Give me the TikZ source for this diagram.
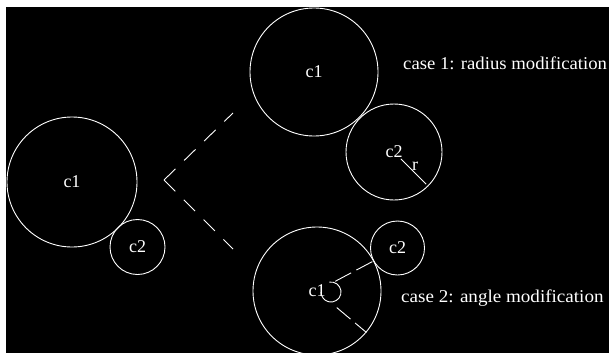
\documentclass[tikz,border=0pt]{standalone}
\usepackage{fontspec}
\setmainfont{Liberation Serif}
\usetikzlibrary{calc}
\begin{document}
\begin{tikzpicture}[x=1pt,y=-1pt,
  ring/.style={circle, draw=white, line width=0.9pt, inner sep=0pt, text=white,
               font=\fontsize{18}{20}\selectfont},
  casetext/.style={text=white, inner sep=0pt, font=\fontsize{18}{20}\selectfont},
  vdash/.style={draw=white, line width=0.9pt, dash pattern=on 16pt off 12pt},
  rdash/.style={draw=white, line width=0.9pt, dash pattern=on 18pt off 6pt},
  solidline/.style={draw=white, line width=0.9pt}]
\useasboundingbox (0,0) rectangle (609,353);
\fill[white] (0,0) rectangle (609,353);
\fill[black] (6,7) rectangle (609,353);

% original configuration
\node[ring, minimum size=130pt] (lc1) at (72,182) {c1};
\node[ring, minimum size=55pt] (lc2) at (137.5,247) {c2};

% dashed V
\coordinate (vapex) at (164,180);
\coordinate (vtop) at (233,113);
\coordinate (vbot) at (233,249);
\draw[vdash] (vapex) -- (vtop);
\draw[vdash] (vapex) -- (vbot);

% case 1
\node[ring, minimum size=128pt] (tc1) at (314,72) {c1};
\node[ring, minimum size=96pt] (tc2) at (394,152) {c2};
\draw[solidline] ($(tc2.center)!0.2!(tc2.-45)$) -- ($(tc2.center)!0.94!(tc2.-45)$);
\node[casetext] (rlab) at (415,166) {r};
\node[casetext, anchor=base west] (case1) at (403,69) {\scalebox{1.04}[1]{case 1: radius modification}};

% case 2
\node[ring, minimum size=128pt] (bc1) at (317,291) {c1};
\node[ring, minimum size=54pt] (bc2) at (397.5,248) {c2};
\draw[rdash] ($(bc1.center)!0.32!(bc1.28)$) -- (bc1.28);
\draw[rdash] ($(bc1.center)!0.4!(bc1.-40.5)$) -- (bc1.-40.5);
\coordinate (amark) at (331,292);
\draw[solidline] ($(amark)+(100:10pt)$) arc[start angle=100, end angle=-180, radius=10pt];
\node[casetext, anchor=base west] (case2) at (401,302) {\scalebox{1.06}[1]{case 2: angle modification}};
\end{tikzpicture}
\end{document}
